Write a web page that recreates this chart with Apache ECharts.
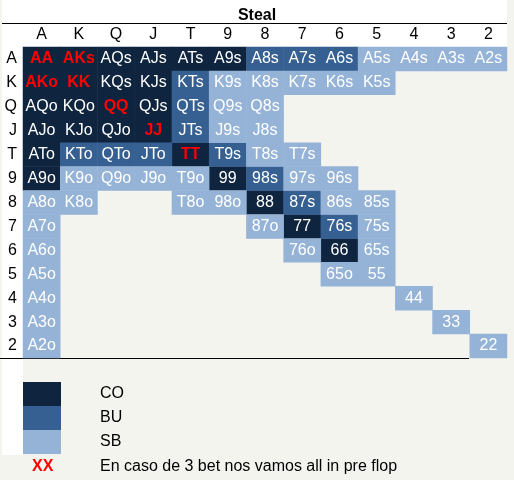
<!DOCTYPE html>
<html lang="es">
<head>
    <meta charset="UTF-8">
    <title>Steal</title>
    <script src="https://cdn.jsdelivr.net/npm/echarts@6/dist/echarts.min.js"></script>
</head>
<style>
    * {
        margin: 0px;
        padding: 0px;
    }
    html , body {
        width: 100%;
        height: 100%;
        overflow: hidden;
        background: #f4f4ef;
    }
    .container{
        width: 514px;
        height: 480px;
    }
</style>
<body>
    <div class="container"></div>
</body>
<script>
    // ranks in grid order (rows and columns)
    const ranks = ['A','K','Q','J','T','9','8','7','6','5','4','3','2'];

    // hands opened from each position
    const coHands = ['AA','AKs','AQs','AJs','ATs','A9s','AKo','KK','KQs','KJs',
        'AQo','KQo','QQ','QJs','AJo','KJo','QJo','JJ','ATo','TT','A9o','99','88','77','66'];
    const buHands = ['A8s','A7s','A6s','KTs','QTs','JTs','KTo','QTo','JTo','T9s','98s','87s','76s'];
    const sbHands = ['A5s','A4s','A3s','A2s','K9s','K8s','K7s','K6s','K5s','Q9s','Q8s','J9s','J8s',
        'T8s','T7s','K9o','Q9o','J9o','T9o','97s','96s','A8o','K8o','T8o','98o','86s','85s',
        'A7o','87o','75s','A6o','76o','65s','A5o','65o','55','A4o','44','A3o','33','A2o','22'];

    // 3 bet -> all in
    const allInHands = ['AA','AKs','AKo','KK','QQ','JJ','TT'];

    const positions = ['CO','BU','SB'];
    const colors = {CO: '#0f243e', BU: '#366092', SB: '#95b3d7'};
    const font = 'Liberation Sans, Arial, sans-serif';

    function cell(hand){
        let a = ranks.indexOf(hand[0]);
        let b = ranks.indexOf(hand[1]);
        let row = a, col = b;
        if (hand[2] == 'o'){
            row = b; col = a;
        }
        let item = {name: hand, value: [col, row, 1]};
        if (allInHands.includes(hand)){
            item.label = {color: '#ff0000', fontWeight: 'bold'};
        }
        return item;
    }

    let handsBy = {CO: coHands, BU: buHands, SB: sbHands};
    let series = positions.map(p => ({
        name: p,
        type: 'heatmap',
        data: handsBy[p].map(cell),
        itemStyle: {color: colors[p]},
        label: {
            show: true,
            formatter: param => param.name,
            color: '#ffffff',
            fontSize: 16,
            fontFamily: font
        },
        emphasis: {disabled: true}
    }));

    let container = document.querySelector('.container');
    let mycharts = echarts.init(container);

    let option = {
        backgroundColor: '#f4f4ef',
        animation: false,
        title: {
            text: 'Steal',
            left: 'center',
            top: 3,
            textStyle: {fontSize: 16, fontWeight: 'bold', color: '#000', fontFamily: font}
        },
        graphic: [
            {type: 'rect', z: -10, shape: {x: 2, y: 0, width: 505, height: 47}, style: {fill: '#ffffff'}},
            {type: 'rect', z: -10, shape: {x: 2, y: 47, width: 21, height: 408}, style: {fill: '#ffffff'}},
            {type: 'line', z: -5, shape: {x1: 2, y1: 23.5, x2: 507, y2: 23.5}, style: {stroke: '#000', lineWidth: 1}},
            {type: 'line', z: -5, shape: {x1: 0, y1: 358.5, x2: 469, y2: 358.5}, style: {stroke: '#000', lineWidth: 1}},
            {type: 'text', left: 32, top: 459,
                style: {text: 'XX', fill: '#ff0000', font: 'bold 16px ' + font}},
            {type: 'text', left: 100, top: 459,
                style: {text: 'En caso de 3 bet nos vamos all in pre flop', fill: '#000', font: '16px ' + font}}
        ],
        legend: {
            data: positions,
            orient: 'vertical',
            left: 23,
            top: 382,
            padding: 0,
            itemWidth: 38,
            itemHeight: 24,
            itemGap: 0,
            icon: 'rect',
            selectedMode: false,
            textStyle: {fontSize: 16, color: '#000', fontFamily: font, padding: [0, 0, 0, 34]}
        },
        grid: {
            left: 23,
            top: 47,
            width: 484,
            height: 311
        },
        xAxis: {
            type: 'category',
            position: 'top',
            data: ranks,
            axisLine: {show: false},
            axisTick: {show: false},
            splitLine: {show: false},
            axisLabel: {fontSize: 16, color: '#000', fontFamily: font, margin: 4}
        },
        yAxis: {
            type: 'category',
            data: ranks,
            inverse: true,
            axisLine: {show: false},
            axisTick: {show: false},
            splitLine: {show: false},
            axisLabel: {fontSize: 16, color: '#000', fontFamily: font, margin: 6}
        },
        series
    };
    mycharts.setOption(option);
</script>
</html>
